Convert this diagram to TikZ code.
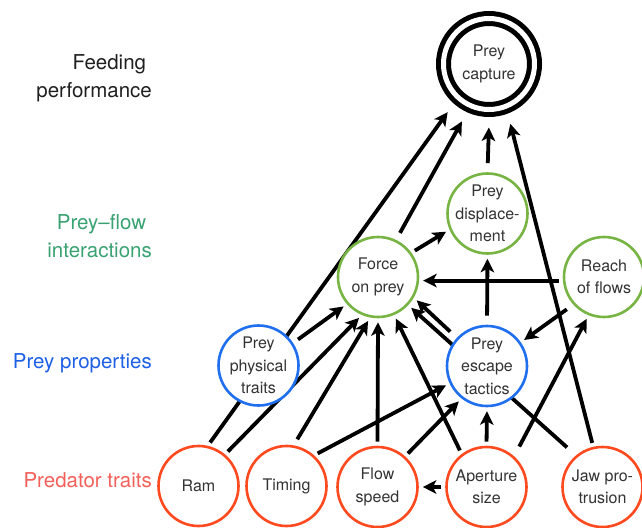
\documentclass[tikz,border=0pt]{standalone}
\usepackage{fontspec}
\setmainfont{TeX Gyre Heros}
\usetikzlibrary{arrows.meta,backgrounds}
\definecolor{nodetext}{HTML}{333333}
\definecolor{grncirc}{HTML}{78B443}
\definecolor{grnlab}{HTML}{3AA272}
\definecolor{blucirc}{HTML}{1F6FEF}
\definecolor{blulab}{HTML}{1D5FE6}
\definecolor{predcirc}{HTML}{FF4A1F}
\definecolor{predlab}{HTML}{F3605A}
\begin{document}
\begin{tikzpicture}[x=1pt,y=-1pt,
  base/.style={circle, fill=white, minimum size=80pt, inner sep=-16pt, line width=2.6pt,
    align=center, text=nodetext, font=\fontsize{16}{22.5}\selectfont},
  greennode/.style={base, draw=grncirc},
  bluenode/.style={base, draw=blucirc},
  rednode/.style={base, draw=predcirc},
  capnode/.style={base, draw=black, line width=5pt, double=white, double distance=5pt,
    minimum size=91pt, outer sep=14pt},
  lab/.style={anchor=east, align=right, inner sep=0pt, font=\fontsize{20.5}{28.5}\selectfont},
  arr/.style={line width=3.8pt, -{Stealth[length=13.5pt,width=13.5pt,inset=3.5pt]},
    shorten >=4pt, shorten <=4pt},
]
\useasboundingbox (0,0) rectangle (642,527);

% level labels
\node[lab, text=black!88] (lfeed) at (152,78.5) {Feeding\kern0.28em\\performance};
\node[lab, text=grnlab] (lflow) at (152,236) {Prey–flow\kern0.28em\\interactions};
\node[lab, text=blulab] (lprop) at (152,363) {Prey properties};
\node[lab, text=predlab] (lpred) at (152,480) {Predator traits};

% nodes
\node[capnode] (cap) at (489,64) {Prey\\capture};
\node[greennode] (disp) at (487.5,213.5) {Prey\\displace-\\ment};
\node[greennode] (force) at (378,277) {Force\\on prey};
\node[greennode] (reach) at (604,277) {Reach\\of flows};
\node[bluenode] (phys) at (258.5,365.5) {Prey\\physical\\traits};
\node[bluenode] (esc) at (487,366) {Prey\\escape\\tactics};
\node[rednode] (ram) at (198.5,486) {Ram};
\node[rednode] (timing) at (286.5,486) {Timing};
\node[rednode] (flow) at (377.5,487) {Flow\\speed};
\node[rednode] (aper) at (486.5,487) {Aperture\\size};
\node[rednode] (jaw) at (602.5,487) {Jaw pro-\\trusion};

\begin{scope}[on background layer]
% into prey capture
\draw[arr] (ram.77) -- (cap.229);
\draw[arr, shorten <=8pt] (force.64) -- (cap.245);
\draw[arr, shorten <=9pt] (disp.90) -- (cap.270);
\draw[arr] (jaw.103) -- (cap.290);
% into prey displacement
\draw[arr] (force.36) -- (disp.203);
\draw[arr, shorten <=9pt] (esc.90) -- (disp.270);
% into force on prey
\draw[arr, shorten <=6pt] (phys.33) -- (force.221);
\draw[arr] (ram.50) -- (force.247);
\draw[arr, shorten <=7pt] (timing.80) -- (force.259);
\draw[arr] (flow.90) -- (force.270);
\draw[arr] (aper.127) -- (force.293);
\draw[arr, shorten <=12pt] (jaw.130) -- (force.317);
\draw[arr, shorten <=9pt] (esc.137) -- (force.330);
\draw[arr] (reach.185) -- (force.355);
% into prey escape tactics
\draw[arr] (timing.48) -- (esc.205);
\draw[arr] (flow.48) -- (esc.232);
\draw[arr] (aper.90) -- (esc.270);
\draw[arr, shorten <=8pt] (reach.222) -- (esc.35);
% others
\draw[arr] (aper.180) -- (flow.0);
\draw[arr, shorten <=11pt] (aper.48) -- (reach.248);
\end{scope}
\end{tikzpicture}
\end{document}
